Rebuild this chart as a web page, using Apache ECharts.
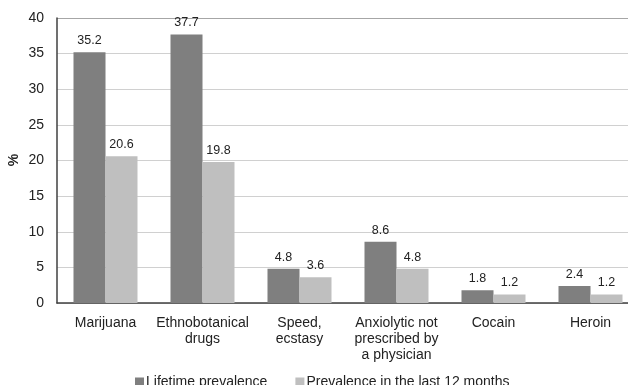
<!DOCTYPE html>
<html>
<head>
<meta charset="utf-8">
<script src="https://cdn.jsdelivr.net/npm/echarts@6/dist/echarts.min.js"></script>
<style>
  html, body { margin: 0; padding: 0; background: #fff; }
  #chart { width: 628px; height: 385px; }
</style>
</head>
<body>
<div id="chart"></div>
<script>
// Substance use prevalence (%)
var categories = [
  'Marijuana',
  'Ethnobotanical\ndrugs',
  'Speed,\necstasy',
  'Anxiolytic not\nprescribed by\na physician',
  'Cocain',
  'Heroin'
];
var lifetime = [35.2, 37.7, 4.8, 8.6, 1.8, 2.4];
var last12Months = [20.6, 19.8, 3.6, 4.8, 1.2, 1.2];
var yTicks = { min: 0, max: 40, interval: 5 };
var yTitle = '%';

var font = 'Liberation Sans, Arial, sans-serif';
var chart = echarts.init(document.getElementById('chart'), null, { renderer: 'canvas' });

var labelStyle = {
  show: true,
  position: 'top',
  distance: 5,
  color: '#222',
  fontSize: 12.5,
  fontFamily: font
};

// light gridlines, with a darker line along the top of the plot
var gridColors = [];
for (var v = yTicks.min; v <= yTicks.max; v += yTicks.interval) {
  gridColors.push(v === yTicks.max ? '#a6a6a6' : '#d0d0d0');
}

chart.setOption({
  animation: false,
  backgroundColor: '#fff',
  grid: {
    left: 57, top: 18, width: 582, height: 285,
    containLabel: false,
    outerBoundsMode: 'none'
  },
  // rotated y-axis title
  graphic: [{
    type: 'text',
    x: 14,
    y: 160,
    rotation: Math.PI / 2,
    style: {
      text: yTitle,
      fill: '#222',
      font: 'bold 14px ' + font,
      align: 'center',
      verticalAlign: 'middle'
    }
  }],
  legend: {
    bottom: -9,
    left: 130,
    itemWidth: 9,
    itemHeight: 9,
    itemGap: 28,
    icon: 'rect',
    textStyle: { fontSize: 14, color: '#222', fontFamily: font, padding: [0, 0, 0, -3] },
    data: ['Lifetime prevalence', 'Prevalence in the last 12 months']
  },
  xAxis: {
    type: 'category',
    data: categories,
    axisLine: { show: true, lineStyle: { color: '#404040', width: 1.5 } },
    axisTick: { show: false },
    axisLabel: {
      color: '#222',
      fontSize: 14,
      fontFamily: font,
      margin: 12,
      lineHeight: 16,
      interval: 0
    }
  },
  yAxis: {
    type: 'value',
    min: yTicks.min,
    max: yTicks.max,
    interval: yTicks.interval,
    axisLine: { show: true, lineStyle: { color: '#404040', width: 1.5 } },
    axisTick: { show: false },
    splitLine: { lineStyle: { color: gridColors, width: 1.2 } },
    axisLabel: { color: '#222', fontSize: 14, fontFamily: font, margin: 13 }
  },
  series: [
    {
      name: 'Lifetime prevalence',
      type: 'bar',
      data: lifetime,
      barWidth: 32,
      barGap: '0%',
      itemStyle: { color: '#7f7f7f' },
      label: labelStyle
    },
    {
      name: 'Prevalence in the last 12 months',
      type: 'bar',
      data: last12Months,
      barWidth: 32,
      barGap: '0%',
      itemStyle: { color: '#bfbfbf' },
      label: labelStyle
    }
  ]
});
</script>
</body>
</html>
